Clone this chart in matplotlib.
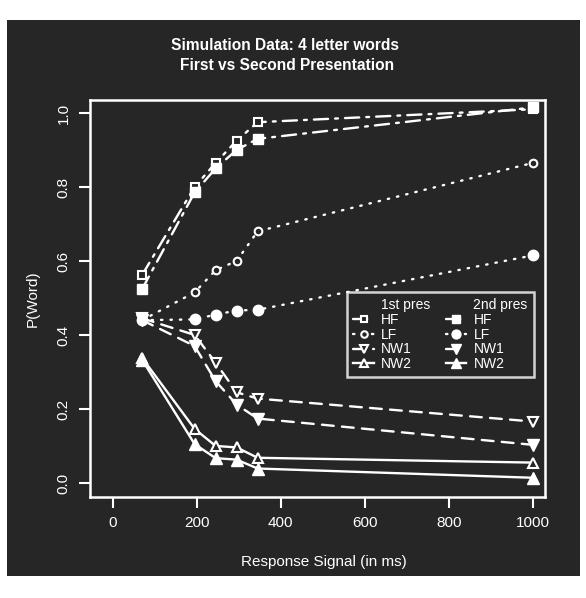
import matplotlib
matplotlib.use('Agg')
import matplotlib.pyplot as plt
from matplotlib.lines import Line2D
from matplotlib.patches import Rectangle

# response signal lags (ms)
lags = [70, 195, 245, 295, 345, 1000]

# first presentation (open symbols)
hf_1 = [0.562, 0.800, 0.865, 0.925, 0.975, 1.010]
lf_1 = [0.440, 0.515, 0.575, 0.600, 0.680, 0.865]
nw1_1 = [0.445, 0.400, 0.325, 0.245, 0.228, 0.166]
nw2_1 = [0.338, 0.146, 0.100, 0.096, 0.068, 0.055]

# second presentation (filled symbols)
hf_2 = [0.524, 0.785, 0.850, 0.900, 0.930, 1.015]
lf_2 = [0.440, 0.442, 0.455, 0.466, 0.468, 0.615]
nw1_2 = [0.440, 0.370, 0.275, 0.212, 0.174, 0.103]
nw2_2 = [0.333, 0.105, 0.067, 0.063, 0.039, 0.014]

labels = ['HF', 'LF', 'NW1', 'NW2']
xticks = [0, 200, 400, 600, 800, 1000]
yticks = [0.0, 0.2, 0.4, 0.6, 0.8, 1.0]

bg = '#262626'
fg = 'white'
plt.rcParams['font.family'] = ['Liberation Sans', 'DejaVu Sans']

W, H = 586, 598
f = plt.figure(figsize=(W / 100, H / 100), dpi=100, facecolor='white')
# dark scanned panel
f.patches.append(Rectangle((7 / W, 1 - 576 / H), (580 - 7) / W, (576 - 20) / H,
                           transform=f.transFigure, facecolor=bg, edgecolor='none', zorder=-10))

ax = f.add_axes([90 / W, 1 - 497 / H, (545 - 90) / W, (497 - 100) / H])
ax.set_facecolor(bg)

# linestyle, marker, size (open), size (filled)
styles = {
    'HF': ((0, (6, 3, 1.2, 3)), 's', 5.5, 6.5),
    'LF': ((0, (0.6, 3.4)), 'o', 5.5, 7.5),
    'NW1': ((0, (5, 3.5)), 'v', 7, 8),
    'NW2': ('-', '^', 7, 8),
}
first = [hf_1, lf_1, nw1_1, nw2_1]
second = [hf_2, lf_2, nw1_2, nw2_2]

h1, h2 = [], []
for lab, y1, y2 in zip(labels, first, second):
    ls, mk, ms1, ms2 = styles[lab]
    l1, = ax.plot(lags, y1, color=fg, lw=1.7, ls=ls, marker=mk, ms=ms1,
                  mfc=bg, mec=fg, mew=1.5, dash_capstyle='round')
    l2, = ax.plot(lags, y2, color=fg, lw=1.7, ls=ls, marker=mk, ms=ms2,
                  mfc=fg, mec=fg, dash_capstyle='round')
    h1.append(l1)
    h2.append(l2)

ax.set_xlim(-54, 1029)
ax.set_ylim(-0.038, 1.035)
ax.set_xticks(xticks)
ax.set_yticks(yticks)
ax.set_xticklabels([str(v) for v in xticks])
ax.set_yticklabels(['%.1f' % v for v in yticks], rotation=90, va='center')
ax.tick_params(colors=fg, length=8, width=1.5, labelsize=11, pad=6)
for s in ax.spines.values():
    s.set_color(fg)
    s.set_linewidth(1.8)

ax.set_xlabel('Response Signal (in ms)', color=fg, fontsize=11)
ax.xaxis.set_label_coords((324 - 90) / (545 - 90), -0.145)
ax.set_ylabel('P(Word)', color=fg, fontsize=11, labelpad=12)

f.text(285 / W, 1 - 45 / H, 'Simulation Data: 4 letter words', color=fg,
       fontsize=11.2, fontweight='bold', ha='center', va='center')
f.text(287 / W, 1 - 66 / H, 'First vs Second Presentation', color=fg,
       fontsize=11.2, fontweight='bold', ha='center', va='center')

blank = Line2D([], [], color='none')
handles = [blank] + h1 + [blank] + h2
leg_labels = ['1st pres'] + labels + ['2nd pres'] + labels
leg = ax.legend(handles, leg_labels, ncol=2, loc='upper left',
                bbox_to_anchor=(0.565, 0.516), borderaxespad=0, fontsize=10,
                frameon=True, fancybox=False, handlelength=1.5,
                handletextpad=0.5, columnspacing=1.1, labelspacing=0.05,
                borderpad=0.45, markerscale=0.85)
leg.get_frame().set_facecolor(bg)
leg.get_frame().set_edgecolor(fg)
leg.get_frame().set_linewidth(1.8)
for t in leg.get_texts():
    t.set_color(fg)

plt.savefig('out.png', dpi=100, facecolor='white')
